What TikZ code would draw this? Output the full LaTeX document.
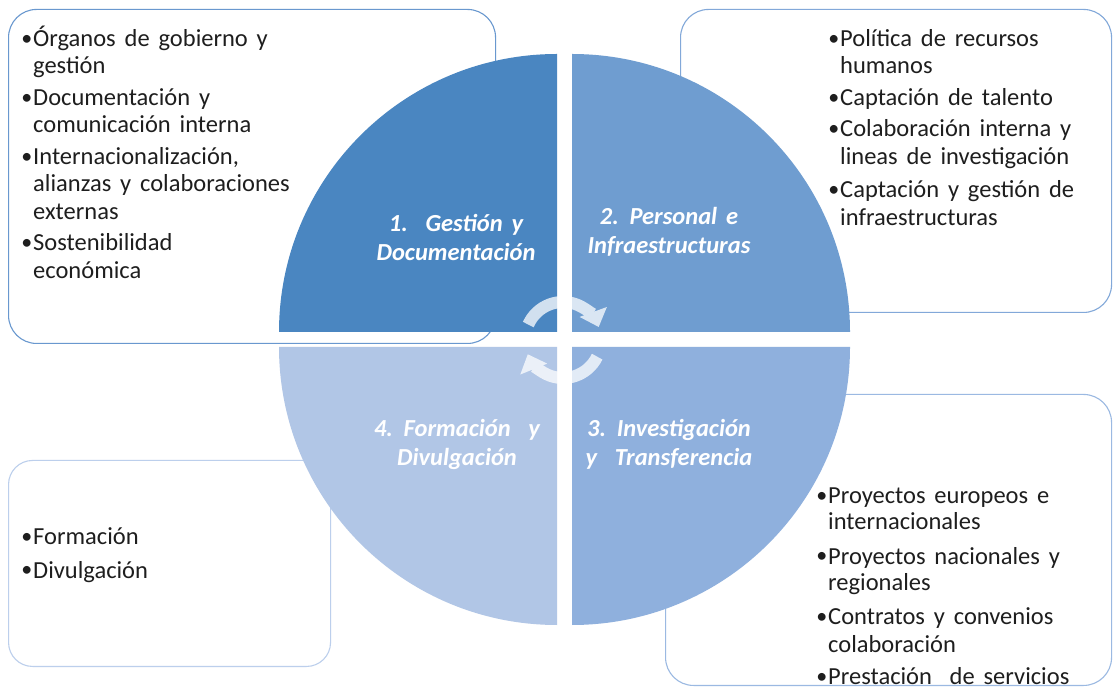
\documentclass[tikz,border=0pt]{standalone}
\usepackage{fontspec}
\setmainfont{Carlito}[WordSpace=1.6]
\usetikzlibrary{arrows.meta}
\definecolor{qone}{RGB}{74,134,193}
\definecolor{qtwo}{RGB}{111,157,208}
\definecolor{qthree}{RGB}{143,176,221}
\definecolor{qfour}{RGB}{177,198,230}
\definecolor{bdone}{RGB}{105,152,207}
\definecolor{bdtwo}{RGB}{130,168,217}
\definecolor{bdthree}{RGB}{155,185,226}
\definecolor{bdfour}{RGB}{188,207,236}
\definecolor{txtc}{RGB}{30,30,30}
\begin{document}
\begin{tikzpicture}[x=1pt,y=1pt,
  box/.style={draw, line width=1.1pt, fill=white, rounded corners=28pt, inner sep=0pt, anchor=south west},
  lbl/.style={align=center, text=white, inner sep=0pt, font=\fontsize{24.5}{29}\selectfont\bfseries\itshape},
  ln/.style={anchor=base west, inner sep=0pt, text=txtc, font=\fontsize{24.5}{28}\selectfont},
  bu/.style={anchor=base east, inner sep=0pt, text=txtc, font=\fontsize{22}{28}\selectfont},
  cyc/.style={line width=12pt, draw=white, -{Triangle[width=28pt,length=16pt]}}
]
\useasboundingbox (0,0) rectangle (1113,688);
\fill[white] (0,0) rectangle (1113,688);

% boxes
\node[box, draw=bdone, minimum width=487pt, minimum height=334pt] (tl) at (8,344) {};
\node[box, draw=bdtwo, minimum width=431pt, minimum height=303pt] (tr) at (680,375) {};
\node[box, draw=bdthree, minimum width=446pt, minimum height=291pt] (br) at (665,2) {};
\node[box, draw=bdfour, minimum width=322pt, minimum height=206pt, rounded corners=24pt] (bl) at (8,21) {};

% top-left text
\node[bu] (tlb1) at (32.5,642) {•};
\node[ln] (tl1) at (33,641) {Órganos de gobierno y};
\node[ln] (tl2) at (33,614) {gestión};
\node[bu] (tlb2) at (32.5,583) {•};
\node[ln] (tl3) at (33,582) {Documentación y};
\node[ln] (tl4) at (33,555) {comunicación interna};
\node[bu] (tlb3) at (32.5,524) {•};
\node[ln] (tl5) at (33,523) {Internacionalización,};
\node[ln] (tl6) at (33,496) {alianzas y colaboraciones};
\node[ln] (tl7) at (33,468) {externas};
\node[bu] (tlb4) at (32.5,438) {•};
\node[ln] (tl8) at (33,437) {Sostenibilidad};
\node[ln] (tl9) at (33,409) {económica};

% top-right text
\node[bu] (trb1) at (839.5,642) {•};
\node[ln] (tr1) at (840,641) {Política de recursos};
\node[ln] (tr2) at (840,614) {humanos};
\node[bu] (trb2) at (839.5,583) {•};
\node[ln] (tr3) at (840,582) {Captación de talento};
\node[bu] (trb3) at (839.5,552) {•};
\node[ln] (tr4) at (840,551) {Colaboración interna y};
\node[ln] (tr5) at (840,523) {lineas de investigación};
\node[bu] (trb4) at (839.5,491) {•};
\node[ln] (tr6) at (840,490) {Captación y gestión de};
\node[ln] (tr7) at (840,462) {infraestructuras};

% bottom-right text
\node[bu] (brb1) at (827.5,185) {•};
\node[ln] (br1) at (828,184) {Proyectos europeos e};
\node[ln] (br2) at (828,158) {internacionales};
\node[bu] (brb2) at (827.5,125) {•};
\node[ln] (br3) at (828,124) {Proyectos nacionales y};
\node[ln] (br4) at (828,98) {regionales};
\node[bu] (brb3) at (827.5,65) {•};
\node[ln] (br5) at (828,64) {Contratos y convenios};
\node[ln] (br6) at (828,36) {colaboración};
\node[bu] (brb4) at (827.5,5) {•};
\node[ln] (br7) at (828,4) {Prestación\ \ de servicios};

% bottom-left text
\node[bu] (blb1) at (32.5,144) {•};
\node[ln] (bl1) at (33,143) {Formación};
\node[bu] (blb2) at (32.5,111) {•};
\node[ln] (bl2) at (33,110) {Divulgación};

% quadrants
\fill[qone] (557,356) -- (279,356) arc[start angle=180,end angle=90,radius=278] -- cycle;
\fill[qtwo] (572,356) -- (572,634) arc[start angle=90,end angle=0,radius=278] -- cycle;
\fill[qthree] (572,341) -- (850,341) arc[start angle=0,end angle=-90,radius=278] -- cycle;
\fill[qfour] (557,341) -- (557,63) arc[start angle=270,end angle=180,radius=278] -- cycle;

% labels
\node[lbl] (lab1) at (456,451) {1.\ \ Gestión y\\Documentación};
\node[lbl] (lab2) at (669,456) {2. Personal e\\Infraestructuras};
\node[lbl] (lab3) at (669,244) {3. Investigación\\y\ \ Transferencia};
\node[lbl] (lab4) at (457,244) {4. Formación\ \ y\\Divulgación};

% cycle arrows
\coordinate (cc) at (563,348);
\begin{scope}[transparency group, opacity=0.75]
\draw[cyc] (cc) ++(156:38) arc[start angle=156,end angle=20,radius=38];
\draw[cyc] (cc) ++(-26:38) arc[start angle=-26,end angle=-158,radius=38];
\end{scope}
\end{tikzpicture}
\end{document}
